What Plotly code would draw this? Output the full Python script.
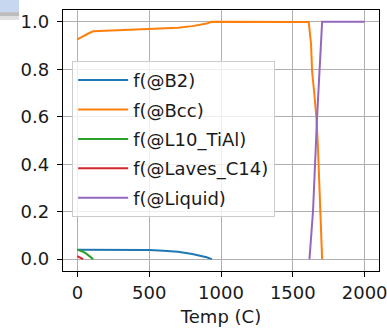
import plotly.graph_objects as go

# ---- data ----
t_b2 = [0, 100, 200, 300, 400, 500, 600, 700, 800, 850, 900, 936]
f_b2 = [0.040, 0.040, 0.040, 0.039, 0.039, 0.038, 0.035, 0.031, 0.022, 0.016, 0.008, 0.0]

t_bcc = [0, 40, 80, 110, 200, 300, 400, 500, 600, 700, 800, 850, 900, 936,
         1000, 1200, 1400, 1600, 1611, 1627, 1634, 1650, 1664, 1674, 1681, 1688, 1692, 1699, 1704]
f_bcc = [0.926, 0.94, 0.952, 0.960, 0.962, 0.964, 0.966, 0.968, 0.971, 0.975, 0.982, 0.987, 0.993, 1.0,
         1.0, 1.0, 1.0, 1.0, 0.999, 0.905, 0.793, 0.695, 0.597, 0.486, 0.387, 0.276, 0.178, 0.066, 0.0]

t_l10 = [0, 20, 40, 60, 80, 95, 110]
f_l10 = [0.040, 0.037, 0.031, 0.024, 0.015, 0.007, 0.0]

t_laves = [0, 20, 40]
f_laves = [0.013, 0.007, 0.0]

t_liq = [1616, 1641, 1669, 1695, 1704, 1800, 1900, 2000]
f_liq = [0.0, 0.206, 0.600, 0.905, 1.0, 1.0, 1.0, 1.0]

names = ["f(@B2)", "f(@Bcc)", "f(@L10_TiAl)", "f(@Laves_C14)", "f(@Liquid)"]
colors = ["#1f77b4", "#ff7f0e", "#2ca02c", "#d62728", "#9467bd"]
series = [(t_b2, f_b2), (t_bcc, f_bcc), (t_l10, f_l10), (t_laves, f_laves), (t_liq, f_liq)]

x_ticks = [0, 500, 1000, 1500, 2000]
y_ticks = [0.0, 0.2, 0.4, 0.6, 0.8, 1.0]

FONT = "DejaVu Sans"
TXT = "#1a1a1a"
FS = 18

fig = go.Figure()
for i, ((tx, fy), nm, col) in enumerate(zip(series, names, colors)):
    fig.add_trace(go.Scatter(x=tx, y=fy, mode="lines", name=nm, legendgroup=f"g{i}",
                             line=dict(color=col, width=2)))

# screenshot artifact in the top-left corner
shapes = [
    dict(type="rect", xref="paper", yref="paper", x0=-0.2, x1=-0.139, y0=0.992, y1=1.04,
         fillcolor="#c8d7f0", line=dict(width=0), layer="above"),
    dict(type="rect", xref="paper", yref="paper", x0=-0.2, x1=-0.139, y0=0.977, y1=0.992,
         fillcolor="#bdbdbd", line=dict(width=0), layer="above"),
    dict(type="rect", xref="paper", yref="paper", x0=-0.2, x1=-0.139, y0=0.962, y1=0.977,
         fillcolor="#e0e0e0", line=dict(width=0), layer="above"),
]

fig.update_layout(
    width=387, height=331,
    margin=dict(l=63, r=8, t=10, b=60),
    paper_bgcolor="white", plot_bgcolor="white",
    font=dict(family=FONT, size=FS, color=TXT),
    shapes=shapes,
    legend=dict(x=0.029, y=0.805, xanchor="left", yanchor="top",
                bgcolor="rgba(255,255,255,0.8)", bordercolor="#cccccc", borderwidth=1,
                font=dict(family=FONT, size=FS, color=TXT), tracegroupgap=3,
                itemwidth=50, entrywidth=205, entrywidthmode="pixels"),
    xaxis=dict(range=[-100, 2100], tickvals=x_ticks, ticktext=[str(v) for v in x_ticks],
               showgrid=True, gridcolor="#b0b0b0", gridwidth=1, zeroline=False,
               showline=True, mirror=True, linecolor="black", linewidth=1.3,
               ticks="outside", ticklen=5, tickcolor="black", tickwidth=1,
               ticklabeloverflow="allow",
               title=dict(text="Temp (C)", font=dict(family=FONT, size=FS, color=TXT), standoff=8),
               automargin=False),
    yaxis=dict(range=[-0.05, 1.05], tickvals=y_ticks, ticktext=[f"{v:.1f}" for v in y_ticks],
               showgrid=True, gridcolor="#b0b0b0", gridwidth=1, zeroline=False,
               showline=True, mirror=True, linecolor="black", linewidth=1.3,
               ticks="outside", ticklen=5, tickcolor="black", tickwidth=1,
               ticklabelstandoff=4, automargin=False),
    showlegend=True,
)

fig.write_html("out.html")
